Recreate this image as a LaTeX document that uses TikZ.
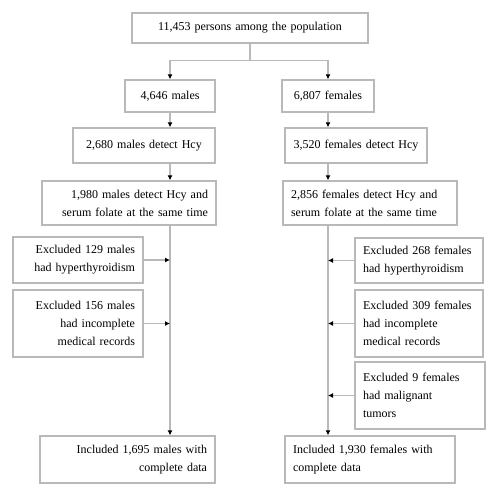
\documentclass[tikz,border=0pt]{standalone}
\usepackage{fontspec}
\setmainfont{Liberation Serif}
\usetikzlibrary{arrows.meta,positioning,calc}

\begin{document}
\begin{tikzpicture}[
            x=1pt, y=-1pt,
            font=\fontsize{12}{18}\selectfont,
            box/.style={draw=gray!55, line width=1.3pt, inner xsep=8pt,
            inner ysep=3pt, align=center},
            lbox/.style={box, align=right},
            rbox/.style={box, align=left},
            ln/.style={draw=gray!55, line width=1.3pt},
            ar/.style={ln, -{Latex[color=black, length=5pt, width=5pt]}}
        ]
            \useasboundingbox (0,0) rectangle (500,500);
% top and split
            \node[box, text width=220pt, minimum height=30pt] (top) at (250,28) {11,453 persons among the population};
            \node[box, text width=74pt, minimum height=32pt]  (m1)  at (170,96) {4,646 males};
            \node[box, text width=76pt, minimum height=32pt]  (f1)  at (328,96) {6,807 females};
% male column
            \node[box, text width=126pt, minimum height=35pt] (m2)  at (144,145.5) {2,680 males detect Hcy};
            \node[lbox, text width=158pt, minimum height=44pt] (m3) at (129,203) {1,980 males detect Hcy and\\serum folate at the same time};
            \node[lbox, text width=114pt, minimum height=46pt] (mx1) at (78,260) {Excluded 129 males\\had hyperthyroidism};
            \node[lbox, text width=114pt, minimum height=67pt] (mx2) at (78,323.5) {Excluded 156 males\\had incomplete\\medical records};
            \node[lbox, text width=159pt, minimum height=47pt] (m4) at (127.5,459.5) {Included 1,695 males with\\complete data};
% female column
            \node[box, text width=126pt, minimum height=35pt] (f2)  at (356,145.5) {3,520 females detect Hcy};
            \node[rbox, text width=158pt, minimum height=44pt] (f3) at (370,203) {2,856 females detect Hcy and\\serum folate at the same time};
            \node[rbox, text width=112pt, minimum height=45pt] (fx1) at (419,260.5) {Excluded 268 females\\had hyperthyroidism};
            \node[rbox, text width=112pt, minimum height=67pt] (fx2) at (419,323.5) {Excluded 309 females\\had incomplete\\medical records};
            \node[rbox, text width=114pt, minimum height=67pt] (fx3) at (420,395.5) {Excluded 9 females\\had malignant\\tumors};
            \node[rbox, text width=154pt, minimum height=47pt] (f4) at (370,459.5) {Included 1,930 females with\\complete data};

            \coordinate (split) at ($(top.south)+(0,17)$);
            \draw[ln] (top.south) -- (split);
            \draw[ar] (split) -| (m1.north);
            \draw[ar] (split) -| (f1.north);

            \draw[ar] (m1.south) -- (m1.south |- m2.north);
            \draw[ar] (m1.south |- m2.south) -- (m1.south |- m3.north);
            \draw[ar] (m1.south |- m3.south) -- (m1.south |- m4.north);
            \draw[ar] (mx1.east) -- (mx1.east -| m1.south);
            \draw[ar] (mx2.east) -- (mx2.east -| m1.south);

            \draw[ar] (f1.south) -- (f1.south |- f2.north);
            \draw[ar] (f1.south |- f2.south) -- (f1.south |- f3.north);
            \draw[ar] (f1.south |- f3.south) -- (f1.south |- f4.north);
            \draw[ar] (fx1.west) -- (fx1.west -| f1.south);
            \draw[ar] (fx2.west) -- (fx2.west -| f1.south);
            \draw[ar] (fx3.west) -- (fx3.west -| f1.south);
        \end{tikzpicture}
\end{document}
